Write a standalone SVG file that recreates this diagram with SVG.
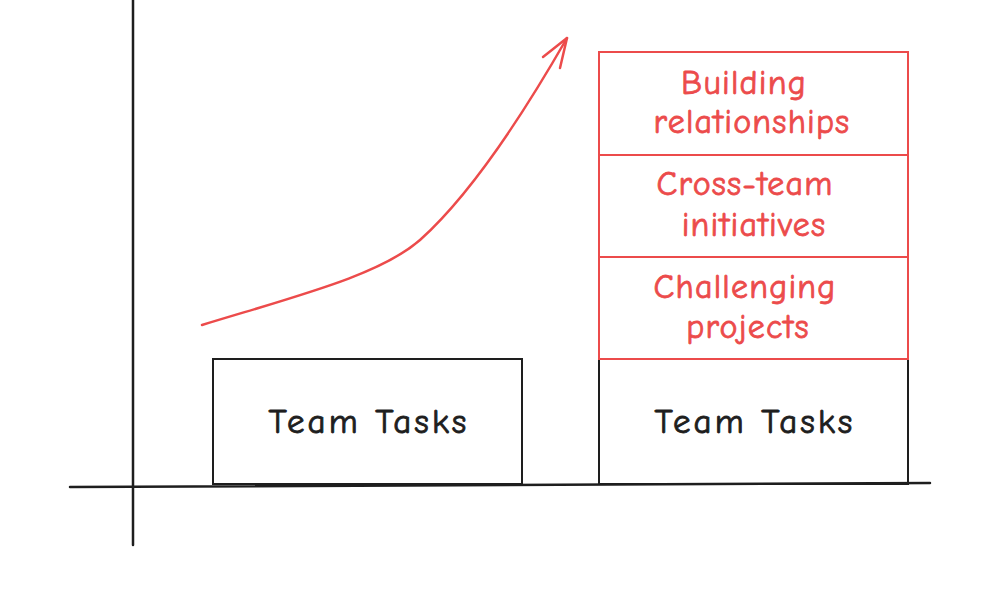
<svg xmlns="http://www.w3.org/2000/svg" width="1000" height="600" viewBox="0 0 1000 600">
<style>
.ax{stroke:#1e1e1e;stroke-width:2.5;fill:none;stroke-linecap:round}
.bk{stroke:#1e1e1e;stroke-width:2;fill:none}
.rd{stroke:#ec4b4b;stroke-width:2;fill:none}
.tb{font-family:"Comic Neue","Liberation Sans",sans-serif;font-size:35px;fill:#1e1e1e;stroke:#1e1e1e;stroke-width:0.9;text-anchor:middle;letter-spacing:3px}
.tr{font-family:"Comic Neue","Liberation Sans",sans-serif;font-size:34px;fill:#ec4b4b;stroke:#ec4b4b;stroke-width:0.8;text-anchor:middle;letter-spacing:1.2px}
</style>
<rect width="1000" height="600" fill="#ffffff"/>
<g id="axes">
<line class="ax" x1="133" y1="0" x2="133" y2="545"/>
<line class="ax" x1="70" y1="487" x2="930" y2="483"/>
</g>
<g id="team-tasks-left">
<rect class="bk" x="213" y="359" width="309" height="125"/>
<text class="tb" x="369" y="433">Team Tasks</text>
</g>
<g id="team-tasks-right">
<rect class="bk" x="599" y="359" width="309" height="125"/>
<text class="tb" x="755" y="433">Team Tasks</text>
</g>
<g id="challenging-projects">
<rect class="rd" x="599" y="257" width="309" height="102"/>
<text class="tr" x="745" y="298">Challenging</text>
<text class="tr" x="748" y="338">projects</text>
</g>
<g id="cross-team">
<rect class="rd" x="599" y="155" width="309" height="102"/>
<text class="tr" x="745" y="195">Cross-team</text>
<text class="tr" x="754" y="236">initiatives</text>
</g>
<g id="building-relationships">
<rect class="rd" x="599" y="52" width="309" height="103"/>
<text class="tr" x="744" y="94">Building</text>
<text class="tr" x="752" y="133">relationships</text>
</g>
<g id="connectors">
<path d="M202 325 C300 295 380 275 420 240 C470 195 520 120 567 38" stroke="#ec4b4b" stroke-width="2.5" fill="none" stroke-linecap="round"/>
<path d="M543 57 L567 38 L560 68" stroke="#ec4b4b" stroke-width="2.5" fill="none" stroke-linecap="round" stroke-linejoin="round"/>
</g>
</svg>
